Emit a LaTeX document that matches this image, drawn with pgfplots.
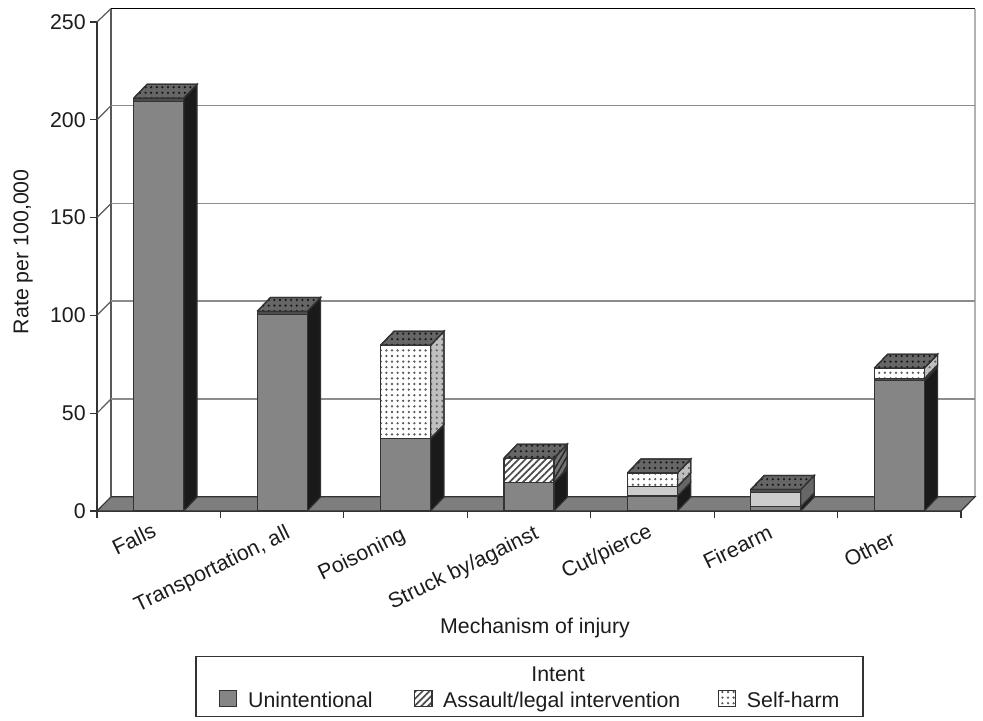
\documentclass[border=0pt]{standalone}
\usepackage{fontspec}
\setmainfont{Liberation Sans}
\usepackage{pgfplots}
\usepackage{pgfplotstable}
\pgfplotsset{compat=1.18}
\usetikzlibrary{patterns.meta}
\definecolor{txt}{HTML}{1C1C1C}
\definecolor{unint}{HTML}{858585}
\definecolor{sideblk}{HTML}{1A1A1A}
\definecolor{edge}{HTML}{333333}
\definecolor{grid}{HTML}{8C8C8C}
\definecolor{floorc}{HTML}{7E7E7E}
\tikzset{
 fu/.style={draw=edge,line width=0.9pt,fill=unint},
 fh/.style={draw=edge,line width=0.9pt,preaction={fill=white},pattern={Lines[angle=45,distance=3.6pt,line width=1.3pt]},pattern color=black!70},
 fg/.style={draw=edge,line width=0.9pt,fill=black!20},
 fd/.style={draw=edge,line width=0.9pt,fill=black!70},
 fs/.style={draw=edge,line width=0.9pt,preaction={fill=white},pattern={Dots[distance=4.2pt,radius=0.95pt]},pattern color=black!65},
 su/.style={draw=edge,line width=0.9pt,fill=sideblk},
 sh/.style={draw=edge,line width=0.9pt,preaction={fill=black!55},pattern={Lines[angle=60,distance=3.5pt,line width=1.1pt]},pattern color=black!85},
 sg/.style={draw=edge,line width=0.9pt,fill=black!60},
 sd/.style={draw=edge,line width=0.9pt,fill=black!80},
 ss/.style={draw=edge,line width=0.9pt,preaction={fill=black!25},pattern={Dots[distance=4.2pt,radius=0.95pt]},pattern color=black!60},
 tp/.style={draw=edge,line width=0.9pt,preaction={fill=black!60},pattern={Dots[distance=4.2pt,radius=0.95pt]},pattern color=black!90},
}
% one side face: bar centre, lower value, upper value, style
\newcommand\sideface[4]{%
 \pgfmathsetmacro\sxa{#1+0.2025}\pgfmathsetmacro\sxb{\sxa+0.108}%
 \pgfmathsetmacro\sya{#2+7.1}\pgfmathsetmacro\syb{#3+7.1}%
 \addplot[#4,forget plot] coordinates {(\sxa,#2) (\sxb,\sya) (\sxb,\syb) (\sxa,#3) (\sxa,#2)};}
% one top face: bar centre, value
\newcommand\topface[2]{%
 \pgfmathsetmacro\sxa{#1-0.2025}\pgfmathsetmacro\sxb{#1+0.2025}%
 \pgfmathsetmacro\sxc{\sxb+0.108}\pgfmathsetmacro\sxd{\sxa+0.108}\pgfmathsetmacro\sya{#2+7.1}%
 \addplot[tp,forget plot] coordinates {(\sxa,#2) (\sxb,#2) (\sxc,\sya) (\sxd,\sya) (\sxa,#2)};}
\pgfplotstableread{
x    unint hatch grey dark self
0.5  209.5 0     0    1.5  0
1.5  100.5 0     0    1.5  0
2.5  37    0     0    0    47.7
3.5  14.6  12.4  0    0    0
4.5  7.6   0     4.8  0    7
5.5  2.2   0     7.3  1.5  0
6.5  66.5  0     0    1    5.5
}\injury
\pgfplotsset{base/.style={
 scale only axis,width=648pt,height=366.75pt,
 xmin=0,xmax=7,ymin=0,ymax=250,clip=false}}
\begin{document}
\begin{tikzpicture}[font=\fontsize{16}{19}\selectfont,text=txt]
\begin{axis}[base,
 axis x line=bottom,axis y line=left,axis line style={-,draw=edge,line width=0.9pt},
 tick align=outside,major tick length=5pt,tick style={draw=edge,line width=0.9pt},
 /pgf/number format/assume math mode=true,
 ytick={0,50,...,250},
 xtick={0,...,7},xticklabels={},
 extra x ticks={0.5,1.5,...,6.5},
 extra x tick labels={{Falls\kern7.5pt},{\rule{0pt}{16pt}Transportation, all\kern1pt},{\rule{0pt}{14.6pt}Poisoning\kern7pt},{\rule{0pt}{16.8pt}Struck by/against},{\rule{0pt}{12.4pt}Cut/pierce\kern6pt},{\rule{0pt}{12.4pt}Firearm\kern8.5pt},{\rule{0pt}{16.8pt}Other\kern11pt}},
 extra x tick style={tick style={draw=none},tick label style={rotate=26,anchor=north east,yshift=3pt,xshift=4pt}},
 xlabel={Mechanism of injury},
 ylabel={Rate per 100,000},
 x label style={at={(axis description cs:0.507,-0.239)},anchor=center},
 y label style={at={(axis description cs:-0.0856,0.53)},anchor=center},
]
\path (axis cs:-0.786,261.2) rectangle (axis cs:7.178,-106.9);
% walls
\addplot[draw=black!65,line width=1pt,forget plot] coordinates {(0.1134,7.4) (0.1134,256.8)};
\addplot[draw=black!30,line width=1pt,forget plot] coordinates {(7.1134,7.4) (7.1134,256.8)};
\addplot[draw=black,line width=1pt,forget plot] coordinates {(0.1134,256.8) (7.1134,256.8)};
\addplot[draw=black!65,line width=0.9pt,forget plot] coordinates {(0,250) (0.1134,256.8)};
% gridlines on the wall
\addplot[draw=grid,line width=1.2pt,forget plot] coordinates {(0.1134,57.2) (7.1134,57.2)};
\addplot[draw=grid,line width=1.2pt,forget plot] coordinates {(0.1134,107.2) (7.1134,107.2)};
\addplot[draw=grid,line width=1.2pt,forget plot] coordinates {(0.1134,157.2) (7.1134,157.2)};
\addplot[draw=grid,line width=1.2pt,forget plot] coordinates {(0.1134,207.2) (7.1134,207.2)};
\addplot[draw=black!65,line width=0.9pt,forget plot] coordinates {(0,50) (0.1134,57.2)};
\addplot[draw=black!65,line width=0.9pt,forget plot] coordinates {(0,100) (0.1134,107.2)};
\addplot[draw=black!65,line width=0.9pt,forget plot] coordinates {(0,150) (0.1134,157.2)};
\addplot[draw=black!65,line width=0.9pt,forget plot] coordinates {(0,200) (0.1134,207.2)};
% floor
\addplot[draw=edge,line width=0.9pt,fill=floorc,forget plot] coordinates {(0,0) (7,0) (7.1134,7.2) (0.1134,7.2) (0,0)};
% side faces
\sideface{0.5}{0}{211}{su}
\sideface{1.5}{0}{102}{su}
\sideface{2.5}{0}{37}{su}
\sideface{2.5}{37}{84.7}{ss}
\sideface{3.5}{0}{14.6}{su}
\sideface{3.5}{14.6}{27}{sh}
\sideface{4.5}{0}{7.6}{su}
\sideface{4.5}{7.6}{12.4}{sg}
\sideface{4.5}{12.4}{19.4}{ss}
\sideface{5.5}{0}{2.2}{su}
\sideface{5.5}{2.2}{11}{sg}
\sideface{6.5}{0}{66.5}{su}
\sideface{6.5}{66.5}{67.5}{sd}
\sideface{6.5}{67.5}{73}{ss}
% top faces
\topface{0.5}{211}
\topface{1.5}{102}
\topface{2.5}{84.7}
\topface{3.5}{27}
\topface{4.5}{19.4}
\topface{5.5}{11}
\topface{6.5}{73}
\end{axis}
\begin{axis}[base,hide axis,ybar stacked,bar width=37.5pt,
 legend columns=3,
 legend image code/.code={\draw[#1] (0pt,-4.5pt) rectangle (13pt,8pt);},
 legend style={draw=none,fill=none,at={(axis cs:3.512,-97.1)},anchor=center,
  /tikz/column 1/.style={column sep=6pt},/tikz/column 3/.style={column sep=6pt},/tikz/column 5/.style={column sep=6pt},
  /tikz/column 2/.style={column sep=29pt},/tikz/column 4/.style={column sep=26pt}},
]
\addplot[fu] table[x=x,y=unint] {\injury};
\addlegendentry{Unintentional}
\addplot[fh] table[x=x,y=hatch] {\injury};
\addlegendentry{Assault/legal intervention}
\addplot[fg,forget plot] table[x=x,y=grey] {\injury};
\addplot[fd,forget plot] table[x=x,y=dark] {\injury};
\addplot[fs] table[x=x,y=self] {\injury};
\addlegendentry{Self-harm}
\draw[draw=edge,line width=0.9pt] (axis cs:0.802,-74.6) rectangle (axis cs:6.206,-105.3);
\node at (axis cs:3.735,-83.3) {Intent};
\end{axis}
\end{tikzpicture}
\end{document}
